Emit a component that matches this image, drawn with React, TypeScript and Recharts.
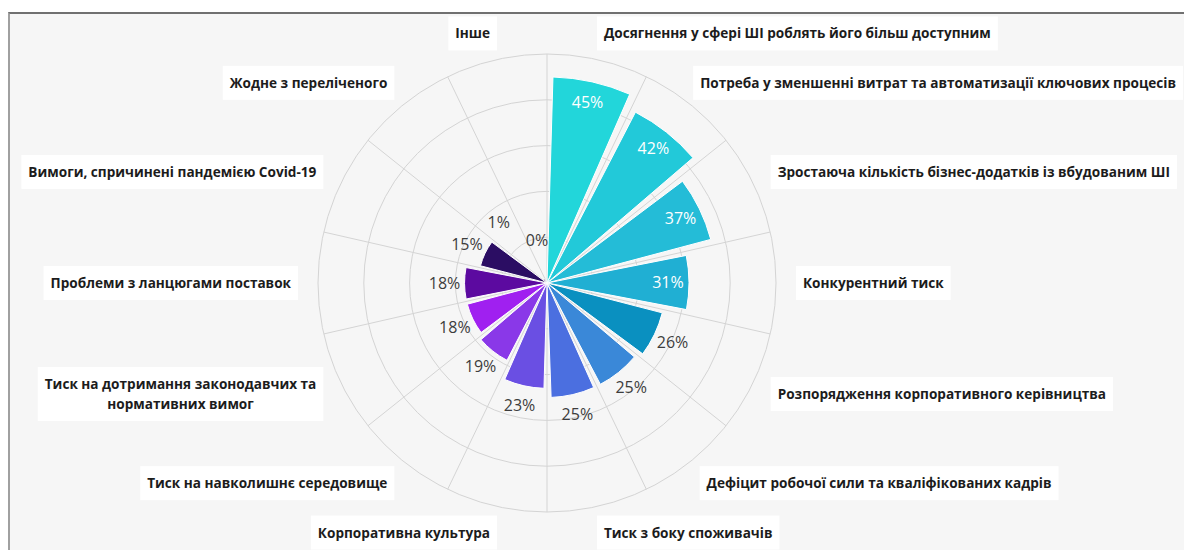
import React from 'react';
import { RadialBarChart, RadialBar, PolarGrid, PolarAngleAxis, PolarRadiusAxis, LabelList, Cell } from 'recharts';

const categories = [
  'Досягнення у сфері ШІ роблять його більш доступним',
  'Потреба у зменшенні витрат та автоматизації ключових процесів',
  'Зростаюча кількість бізнес-додатків із вбудованим ШІ',
  'Конкурентний тиск',
  'Розпорядження корпоративного керівництва',
  'Дефіцит робочої сили та кваліфікованих кадрів',
  'Тиск з боку споживачів',
  'Корпоративна культура',
  'Тиск на навколишнє середовище',
  'Тиск на дотримання законодавчих та\nнормативних вимог',
  'Проблеми з ланцюгами поставок',
  'Вимоги, спричинені пандемією Covid-19',
  'Жодне з переліченого',
  'Інше',
];

const values = [45, 42, 37, 31, 26, 25, 25, 23, 19, 18, 18, 15, 1, 0];

const colors = [
  '#22d6da', '#22c9d9', '#24bcd7', '#20afd3', '#0a90c0', '#3a88d8', '#4b6fe0',
  '#6a4fe3', '#8a38e8', '#a020f0', '#5c0aa0', '#2b0d63', '#1a0a40', '#1a0a40',
];

const radiusTicks = [0, 10, 20, 30, 40, 50];

const data = categories.map((name, i) => ({ name, value: values[i] }));

const W = 1184;
const H = 550;
const CX = 547;
const CY = 283;
const OUTER = 229;
const LABEL_R = 256;
const BAND = 360 / categories.length;
const FONT = '"Open Sans", "Noto Sans", sans-serif';
const LABEL_SIZE = 13.6;
const LABEL_FONT = `700 ${LABEL_SIZE}px ${FONT}`;

// sector boundaries, clockwise from 12 o'clock
const gridAngles = categories.map((_, i) => 90 - i * BAND);

let ctx: CanvasRenderingContext2D | null = null;
const measure = (s: string) => {
  if (!ctx) ctx = document.createElement('canvas').getContext('2d');
  if (!ctx) return s.length * 8;
  ctx.font = LABEL_FONT;
  return ctx.measureText(s).width;
};

const CategoryTick = (props: any) => {
  const { index, payload } = props;
  const a = ((90 - (index + 0.5) * BAND) * Math.PI) / 180;
  const ux = Math.cos(a);
  const px = CX + ux * LABEL_R;
  const py = CY - Math.sin(a) * LABEL_R;
  const anchor = ux > 0.05 ? 'start' : ux < -0.05 ? 'end' : 'middle';
  const lines = String(payload.value).split('\n');
  const w = Math.max(...lines.map(measure));
  const lh = 20;
  let left = anchor === 'start' ? px : anchor === 'end' ? px - w : px - w / 2;
  left = Math.max(20, Math.min(left, W - 8 - w));
  const mid = left + w / 2;
  const h = lines.length * lh;
  return (
    <g>
      <rect x={left - 7} y={py - h / 2 - 7} width={w + 14} height={h + 14} fill="#ffffff" />
      <text textAnchor="middle" fontFamily={FONT} fontWeight={700} fontSize={LABEL_SIZE} fill="#1c1c1c">
        {lines.map((l, i) => (
          <tspan key={i} x={mid} y={py - h / 2 + lh * i + lh / 2 + 5}>
            {l}
          </tspan>
        ))}
      </text>
    </g>
  );
};

const renderValueLabel = (props: any) => {
  const vb = props.viewBox || props;
  const value = Number(props.value);
  const cx = vb.cx ?? CX;
  const cy = vb.cy ?? CY;
  const mid = ((vb.startAngle + vb.endAngle) / 2) * (Math.PI / 180);
  const outer = vb.outerRadius ?? 0;
  const inside = value >= 30;
  const r = inside ? outer - 21 : value < 5 ? 44 + value * 33 : outer + 20;
  const x = cx + Math.cos(mid) * r;
  const y = cy - Math.sin(mid) * r;
  return (
    <text x={x} y={y} dy={5.5} textAnchor="middle" fontFamily={FONT} fontSize={16} fill={inside ? '#ffffff' : '#3d3d3d'}>
      {value}%
    </text>
  );
};

const App: React.FC = () => {
  return (
    <div style={{ position: 'absolute', left: 0, top: 0, width: W, height: H, background: '#ffffff', overflow: 'hidden' }}>
      <div
        style={{
          position: 'absolute', left: 8, top: 12, right: 0, bottom: 0,
          borderTop: '2px solid #707070', borderLeft: '2px solid #a0a0a0', background: '#f6f6f6',
        }}
      />
      <div style={{ position: 'absolute', left: 0, top: 0 }}>
        <RadialBarChart
          width={W}
          height={H}
          data={data}
          layout="centric"
          cx={CX}
          cy={CY}
          innerRadius={0}
          outerRadius={OUTER}
          startAngle={90 - BAND}
          endAngle={-270 - BAND}
          barCategoryGap="8%"
          margin={{ top: 0, right: 0, bottom: 0, left: 0 }}
        >
          <PolarGrid gridType="circle" stroke="#d4d4d4" polarAngles={gridAngles} />
          <PolarAngleAxis type="category" dataKey="name" tick={<CategoryTick />} tickLine={false} axisLine={false} />
          <PolarRadiusAxis type="number" domain={[0, 50]} ticks={radiusTicks} tick={false} axisLine={false} />
          <RadialBar dataKey="value" isAnimationActive={false} stroke="#ffffff" strokeWidth={1}>
            {data.map((d, i) => (
              <Cell key={d.name} fill={colors[i]} />
            ))}
            <LabelList dataKey="value" content={renderValueLabel} />
          </RadialBar>
        </RadialBarChart>
      </div>
    </div>
  );
};

export default App;
